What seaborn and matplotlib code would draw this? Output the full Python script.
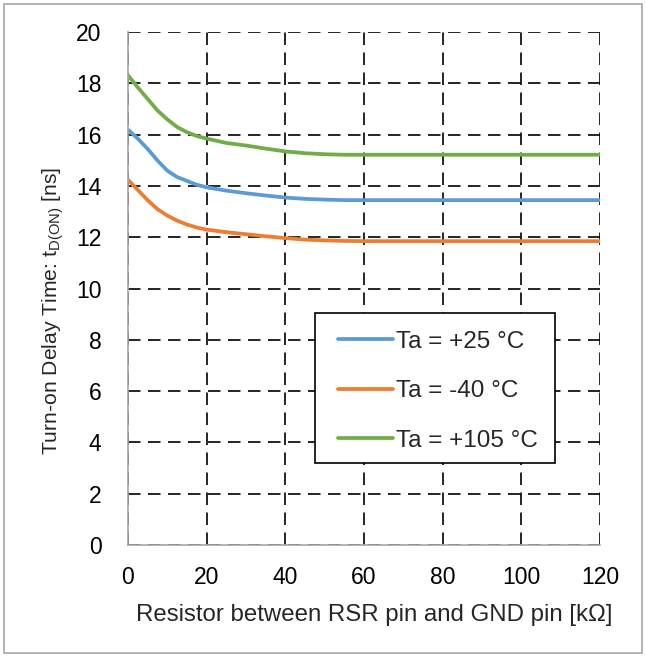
import matplotlib
matplotlib.use("Agg")
import matplotlib.pyplot as plt
from matplotlib.patches import Rectangle
import seaborn as sns
import pandas as pd

# resistor values [kOhm]
resistance = [0, 2.5, 5, 7.5, 10, 12.5, 15, 17.5, 20, 25, 30, 35, 40, 45, 50, 55, 60, 80, 100, 120]

# turn-on delay [ns] per ambient temperature
td_25 = [16.2, 15.85, 15.45, 15.0, 14.6, 14.35, 14.2, 14.05, 13.95, 13.82, 13.72, 13.63, 13.55,
         13.5, 13.47, 13.45, 13.45, 13.45, 13.45, 13.45]
td_m40 = [14.25, 13.85, 13.45, 13.1, 12.85, 12.65, 12.5, 12.38, 12.3, 12.2, 12.12, 12.04, 11.97,
          11.91, 11.88, 11.86, 11.85, 11.85, 11.85, 11.85]
td_105 = [18.32, 17.85, 17.4, 16.95, 16.6, 16.3, 16.1, 15.95, 15.85, 15.68, 15.58, 15.46, 15.35,
          15.28, 15.24, 15.22, 15.22, 15.22, 15.22, 15.22]

labels = ['Ta = +25 °C', 'Ta = -40 °C', 'Ta = +105 °C']
colors = ['#5B9BD5', '#ED7D31', '#70AD47']

x_ticks = [0, 20, 40, 60, 80, 100, 120]
y_ticks = [0, 2, 4, 6, 8, 10, 12, 14, 16, 18, 20]

records = []
for lab, vals in zip(labels, [td_25, td_m40, td_105]):
    for r, v in zip(resistance, vals):
        records.append([lab, r, v])
df = pd.DataFrame(records, columns=['series', 'R', 'td'])

sns.set_style("white")
plt.rcParams['font.family'] = ['Liberation Sans', 'DejaVu Sans']
plt.rcParams['mathtext.fontset'] = 'custom'
plt.rcParams['mathtext.rm'] = 'Liberation Sans'

fig = plt.figure(figsize=(6.46, 6.57), dpi=100)
ax = fig.add_axes([0.198, 0.1705, 0.731, 0.7805])

ax.set_xlim(0, 120)
ax.set_ylim(0, 20)
ax.set_xticks(x_ticks)
ax.set_yticks(y_ticks)
ax.grid(True, color='black', linestyle=(0, (7.5, 4.5)), linewidth=1.2)
ax.set_axisbelow(True)

sns.lineplot(data=df, x='R', y='td', hue='series', palette=colors,
             linewidth=2.7, ax=ax, legend=True, sort=False)

for side in ['top', 'right']:
    ax.spines[side].set_visible(False)
for side in ['left', 'bottom']:
    ax.spines[side].set_color('#A6A6A6')
    ax.spines[side].set_linewidth(1.2)
    ax.spines[side].set_zorder(5)

ax.tick_params(axis='x', length=0, labelsize=16.5, colors='black', pad=15)
ax.tick_params(axis='y', length=0, labelsize=16.5, colors='black', pad=19)
ax.set_xlabel('Resistor between RSR pin and GND pin [kΩ]', fontsize=17.3, labelpad=11)
ax.xaxis.label.set_x(0.521)
ax.set_ylabel(r'Turn-on Delay Time: t$_{\mathregular{D(ON)}}$ [ns]', fontsize=15.2, labelpad=7)
ax.yaxis.label.set_y(0.457)

# legend box
ax.add_patch(Rectangle((0.396, 0.160), 0.509, 0.292, transform=ax.transAxes,
                       facecolor='white', edgecolor='black', linewidth=1.2, zorder=4))
leg = ax.legend(loc='upper left', bbox_to_anchor=(0.445, 0.418), fontsize=17.5,
                frameon=False, handlelength=2.25, handletextpad=0.15,
                labelspacing=1.13, borderpad=0, borderaxespad=0)
leg.set_zorder(6)

fig.patches.append(Rectangle((0.0062, 0.0061), 0.9876, 0.988, transform=fig.transFigure,
                             fill=False, edgecolor='#A6A6A6', linewidth=1.2))

fig.savefig('out.png', dpi=100)
